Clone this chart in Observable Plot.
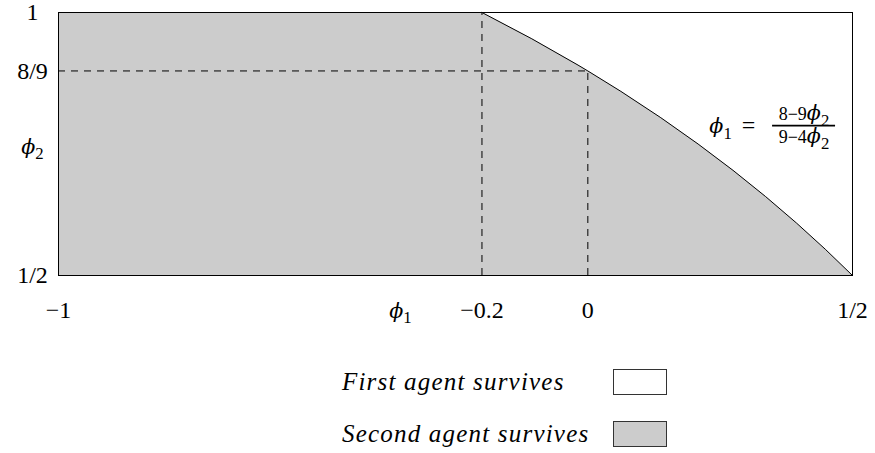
<!DOCTYPE html>
<html>
<head>
<meta charset="utf-8">
<script src="https://cdn.jsdelivr.net/npm/d3@7"></script>
<script src="https://cdn.jsdelivr.net/npm/@observablehq/plot@0.6"></script>
<style>
  body { margin: 0; background: #fff; font-family: "Liberation Serif", serif; }
  #legend { margin-left: 342px; margin-top: 28px; }
  .row { display: flex; align-items: center; height: 27px; margin-bottom: 25px; }
  .row span { width: 271px; font-style: italic; font-size: 25px; letter-spacing: 1.2px; color: #000; }
  .sw { width: 52px; height: 24px; border: 1px solid #333; }
</style>
</head>
<body>
<div id="chart"></div>
<div id="legend"></div>
<script>
// Boundary curve phi1 = (8 - 9 phi2) / (9 - 4 phi2)
const phi2Values = [1, 0.95, 0.9, 0.8889, 0.85, 0.8, 0.75, 0.7, 0.65, 0.6, 0.55, 0.5];
const phi1Values = [-0.2, -0.1058, -0.0185, 0, 0.0625, 0.1379, 0.2083, 0.2742, 0.3359, 0.3939, 0.4485, 0.5];

const xDomain = [-1, 0.5];
const yDomain = [0.5, 1];

const xTicks = [-1, -0.354, -0.2, 0, 0.5];
const xTickLabels = ["−1", "ϕ₁", "−0.2", "0", "1/2"];
const yTicks = [0.5, 0.746, 8 / 9, 1];
const yTickLabels = ["1/2", "ϕ₂", "8/9", "1"];

const legendLabels = ["First agent survives", "Second agent survives"];
const legendColors = ["#ffffff", "#cccccc"];

const curve = phi2Values.map((p2, i) => ({phi2: p2, phi1: phi1Values[i]}));

// dashed guide lines
const guideV = [{x: -0.2, y1: 0.5, y2: 1}, {x: 0, y1: 0.5, y2: 8 / 9}];
const guideH = [{y: 8 / 9, x1: -1, x2: 0}];

const font = "Liberation Serif";
const dash = "7,6";

const plot = Plot.plot({
  width: 875,
  height: 340,
  marginLeft: 58,
  marginRight: 23,
  marginTop: 12,
  marginBottom: 65,
  style: {fontFamily: font, fontSize: "24px", color: "#000", background: "#fff"},
  x: {domain: xDomain},
  y: {domain: yDomain},
  marks: [
    Plot.areaX(curve, {y: "phi2", x1: () => xDomain[0], x2: "phi1", fill: legendColors[1]}),
    Plot.line(curve, {x: "phi1", y: "phi2", stroke: "#000", strokeWidth: 1}),
    Plot.ruleX(guideV, {x: "x", y1: "y1", y2: "y2", stroke: "#000", strokeWidth: 1, strokeDasharray: dash}),
    Plot.ruleY(guideH, {y: "y", x1: "x1", x2: "x2", stroke: "#000", strokeWidth: 1, strokeDasharray: dash}),
    Plot.frame({stroke: "#000", strokeWidth: 1}),
    Plot.axisX({ticks: xTicks, tickFormat: (d, i) => xTickLabels[i], tickSize: 0, tickPadding: 25, label: null}),
    Plot.axisY({ticks: yTicks, tickFormat: (d, i) => yTickLabels[i], tickSize: 0, tickPadding: 26, textAnchor: "middle", label: null}),
    // formula annotation
    Plot.text(["ϕ₁"], {x: 0.272, y: 0.785, textAnchor: "end", fontSize: 24}),
    Plot.text(["="], {x: 0.3035, y: 0.785, fontSize: 24}),
    Plot.ruleY([0.785], {x1: 0.349, x2: 0.468, stroke: "#000", strokeWidth: 1.6}),
    Plot.text(["8−9ϕ₂"], {x: 0.4084, y: 0.785, dy: -11, fontSize: 18}),
    Plot.text(["9−4ϕ₂"], {x: 0.4084, y: 0.785, dy: 12, fontSize: 18})
  ]
});

// typeset italic phi with upright subscript digit
const subs = {"₁": "1", "₂": "2"};
d3.select(plot).selectAll("text").each(function () {
  const t = this.textContent;
  if (!t.includes("ϕ")) return;
  const fs = parseFloat(getComputedStyle(this).fontSize) || 24;
  const sel = d3.select(this);
  sel.text(null);
  let shifted = false;
  for (const ch of t) {
    if (ch === "ϕ") {
      sel.append("tspan").attr("font-family", "DejaVu Serif").attr("font-style", "italic")
        .attr("font-weight", 300)
        .attr("font-size", fs * 0.86).attr("dy", shifted ? -fs * 0.22 : null).text("ϕ");
      shifted = false;
    } else if (subs[ch]) {
      sel.append("tspan").attr("font-size", fs * 0.7).attr("dy", fs * 0.22).text(subs[ch]);
      shifted = true;
    } else {
      sel.append("tspan").attr("dy", shifted ? -fs * 0.22 : null).text(ch);
      shifted = false;
    }
  }
});

document.getElementById("chart").appendChild(plot);

const legend = d3.select("#legend");
legendLabels.forEach((lab, i) => {
  const row = legend.append("div").attr("class", "row");
  row.append("span").text(lab);
  row.append("div").attr("class", "sw").style("background", legendColors[i]);
});
</script>
</body>
</html>
